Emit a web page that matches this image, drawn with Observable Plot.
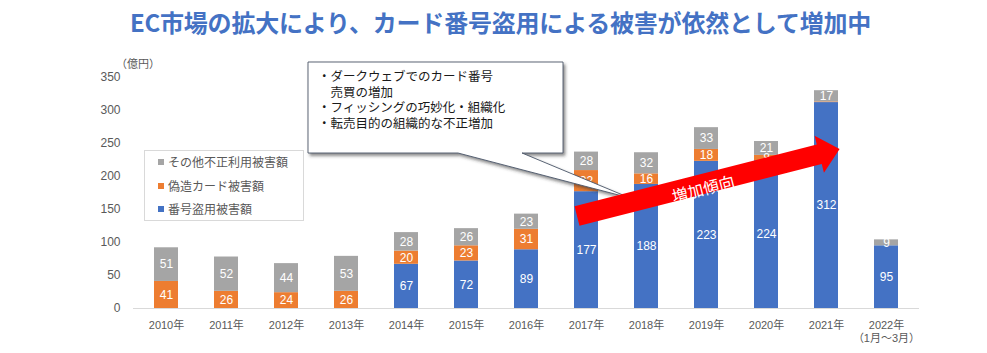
<!DOCTYPE html>
<html>
<head>
<meta charset="utf-8">
<script src="https://cdn.jsdelivr.net/npm/d3@7"></script>
<script src="https://cdn.jsdelivr.net/npm/@observablehq/plot@0.6"></script>
<style>
  html, body { margin: 0; padding: 0; background: #fff; }
  #wrap { position: relative; width: 987px; height: 353px; overflow: hidden; font-family: "Noto Sans CJK JP", "Liberation Sans", sans-serif; }
  #title { position: absolute; left: 7px; top: 8px; width: 987px; text-align: center; font-size: 24px; line-height: 28px; font-weight: bold; color: #4472C4; letter-spacing: -0.2px; }
  #chart { position: absolute; left: 0; top: 45px; }
  #unit { position: absolute; left: 116px; top: 55px; font-size: 11px; color: #595959; }
  #legend { position: absolute; left: 144px; top: 150px; width: 160px; height: 71px; border: 1px solid #D9D9D9; background: #fff; box-sizing: border-box; }
  .li { position: absolute; left: 13px; font-size: 12px; line-height: 14px; color: #595959; white-space: nowrap; }
  .sw { display: inline-block; width: 6px; height: 6px; margin-right: 4px; vertical-align: 2px; }
  #overlay { position: absolute; left: 0; top: 0; }
</style>
</head>
<body>
<div id="wrap">
  <div id="title">EC市場の拡大により、カード番号盗用による被害が依然として増加中</div>
  <div id="chart"></div>
  <div id="unit">（億円）</div>
  <div id="legend"></div>
  <svg id="overlay" width="987" height="353"></svg>
</div>
<script>
const titleText = "EC市場の拡大により、カード番号盗用による被害が依然として増加中";
const years = ["2010","2011","2012","2013","2014","2015","2016","2017","2018","2019","2020","2021","2022"];
const yearLabels = ["2010年","2011年","2012年","2013年","2014年","2015年","2016年","2017年","2018年","2019年","2020年","2021年","2022年\n（1月～3月）"];
const seriesNames = ["番号盗用被害額","偽造カード被害額","その他不正利用被害額"];
const seriesColors = ["#4472C4","#ED7D31","#A5A5A5"];
const theft = [0,0,0,0,67,72,89,177,188,223,224,312,95];
const counterfeit = [41,26,24,26,20,23,31,32,16,18,8,1,0];
const other = [51,52,44,53,28,26,23,28,32,33,21,17,9];
const yTicks = [0,50,100,150,200,250,300,350];
const calloutLines = ["・ダークウェブでのカード番号", "　売買の増加", "・フィッシングの巧妙化・組織化", "・転売目的の組織的な不正増加"];
const arrowText = "増加傾向";

// build stacked rows
const seriesValues = [theft, counterfeit, other];
const rows = [];
years.forEach((yr, i) => {
  let base = 0;
  seriesValues.forEach((vals, s) => {
    const v = vals[i];
    rows.push({year: yr, series: seriesNames[s], value: v, y1: base, y2: base + v, mid: base + v / 2});
    base += v;
  });
});
const labelRows = rows.filter(d => d.value >= 5);
const xLabelRows = years.map((y, i) => ({year: y, label: yearLabels[i]}));

const chart = Plot.plot({
  width: 987,
  height: 308,
  marginLeft: 133,
  marginRight: 68,
  marginTop: 32,
  marginBottom: 45,
  style: {color: "#595959", fontSize: "12px", fontFamily: "'Liberation Sans', 'Noto Sans CJK JP', sans-serif", background: "transparent"},
  x: {domain: years, paddingInner: 0.6, paddingOuter: 0.3, axis: null},
  y: {domain: [0, 350], axis: null},
  color: {domain: seriesNames, range: seriesColors},
  marks: [
    Plot.axisY(yTicks, {tickSize: 0, tickPadding: 13, fontSize: 12, fill: "#595959"}),
    Plot.barY(rows.filter(d => d.value > 0), {x: "year", y1: "y1", y2: "y2", fill: "series"}),
    Plot.ruleY([0], {stroke: "#D9D9D9", strokeWidth: 1}),
    Plot.text(labelRows, {x: "year", y: "mid", text: d => String(d.value), fill: "white", fontSize: 12}),
    Plot.text(xLabelRows, {x: "year", text: "label", frameAnchor: "bottom", dy: 11, lineAnchor: "top", lineHeight: 1.2, fontSize: 11, fill: "#595959", fontFamily: "'Liberation Sans', 'Noto Sans CJK JP', sans-serif"})
  ]
});
document.getElementById("chart").appendChild(chart);

// legend (top to bottom: other, counterfeit, theft)
const legend = document.getElementById("legend");
const legendOrder = [2, 1, 0];
const legendTops = [4, 28, 51];
legendOrder.forEach((s, k) => {
  const div = document.createElement("div");
  div.className = "li";
  div.style.top = legendTops[k] + "px";
  div.innerHTML = `<span class="sw" style="background:${seriesColors[s]}"></span>${seriesNames[s]}`;
  legend.appendChild(div);
});

// overlay annotations: callout and arrow
const ns = "http://www.w3.org/2000/svg";
const ov = document.getElementById("overlay");
ov.innerHTML = `
<defs>
  <filter id="sh" x="-10%" y="-10%" width="130%" height="140%">
    <feDropShadow dx="2" dy="2.5" stdDeviation="1.5" flood-color="#333" flood-opacity="0.55"/>
  </filter>
</defs>
<path d="M308,62 H563 V153 H522 L630,198 L458,153 H308 Z" fill="#fff" stroke="#4A5568" stroke-width="0.9" filter="url(#sh)"/>
<g transform="translate(577,216) rotate(-14.3)">
  <path d="M0,-10 L250,-10 L250,-19 L271,0 L250,19 L250,10 L0,10 Z" fill="#FF0000"/>
</g>
`;
const tg = document.createElementNS(ns, "g");
calloutLines.forEach((t, i) => {
  const tx = document.createElementNS(ns, "text");
  tx.setAttribute("x", 318);
  tx.setAttribute("y", 81 + i * 15.5);
  tx.setAttribute("font-size", "12.5");
  tx.setAttribute("font-family", "'Noto Sans CJK JP', sans-serif");
  tx.setAttribute("fill", "#1a1a1a");
  tx.textContent = t;
  tg.appendChild(tx);
});
ov.appendChild(tg);
const at = document.createElementNS(ns, "text");
at.setAttribute("transform", "translate(703,188) rotate(-14.3)");
at.setAttribute("text-anchor", "middle");
at.setAttribute("dominant-baseline", "central");
at.setAttribute("font-size", "16");
at.setAttribute("font-family", "'Noto Sans CJK JP', sans-serif");
at.setAttribute("fill", "#fff");
at.textContent = arrowText;
ov.appendChild(at);
</script>
</body>
</html>
